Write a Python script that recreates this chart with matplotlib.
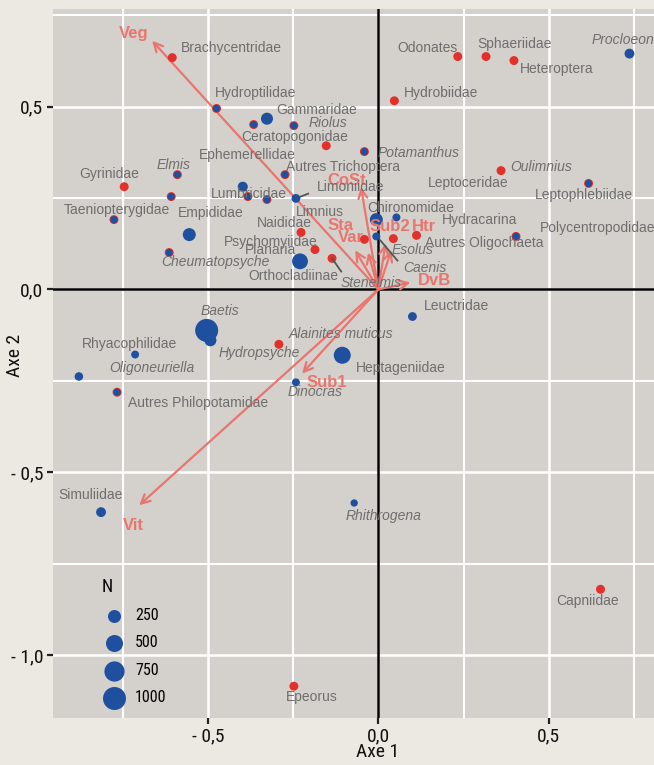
import matplotlib
matplotlib.use("Agg")
import matplotlib.pyplot as plt
from matplotlib import font_manager as fm
import numpy as np

# ---------------- data ----------------
# red layer (fixed size)
red_x = [-0.605, -0.153, -0.746, -0.227, -0.186, -0.136, -0.041, 0.044, 0.112,
         0.233, 0.316, 0.398, 0.047, 0.360, -0.292, 0.652, -0.248,
         -0.475, -0.366, -0.248, -0.041, -0.590, -0.274, -0.608, -0.383, -0.327,
         -0.776, -0.614, 0.617, 0.404, -0.767]
red_y = [0.634, 0.393, 0.281, 0.156, 0.109, 0.085, 0.137, 0.139, 0.148,
         0.637, 0.637, 0.626, 0.516, 0.325, -0.150, -0.820, -1.085,
         0.495, 0.451, 0.448, 0.377, 0.314, 0.314, 0.254, 0.254, 0.246,
         0.191, 0.101, 0.290, 0.145, -0.281]

# blue layer (size ~ N)
blue_x = [-0.475, -0.366, -0.248, -0.041, -0.590, -0.274, -0.608, -0.383, -0.327,
          -0.776, -0.614, 0.617, 0.404, -0.767,
          -0.327, -0.398, -0.242, -0.555, -0.230, -0.006, -0.006, 0.053, 0.737,
          0.100, -0.504, -0.493, -0.714, -0.879, -0.106, -0.242, -0.814, -0.071]
blue_y = [0.495, 0.451, 0.448, 0.377, 0.314, 0.314, 0.254, 0.254, 0.246,
          0.191, 0.101, 0.290, 0.145, -0.281,
          0.467, 0.281, 0.249, 0.150, 0.077, 0.191, 0.145, 0.197, 0.645,
          -0.074, -0.112, -0.139, -0.178, -0.238, -0.180, -0.254, -0.609, -0.584]
blue_n = [5, 5, 5, 5, 5, 5, 5, 5, 5,
          5, 5, 5, 5, 5,
          200, 110, 60, 250, 420, 250, 30, 30, 100,
          60, 1000, 200, 30, 50, 500, 30, 100, 10]

# taxon labels
label_text = ["Brachycentridae", "Hydroptilidae", "Gammaridae", "Riolus", "Ceratopogonidae",
              "Ephemerellidae", "Gyrinidae", "Elmis", "Autres Trichoptera", "Limoniidae",
              "Potamanthus", "Odonates", "Sphaeriidae", "Heteroptera", "Procloeon",
              "Hydrobiidae", "Oulimnius", "Leptoceridae", "Leptophlebiidae", "Polycentropodidae",
              "Hydracarina", "Chironomidae", "Autres Oligochaeta", "Esolus", "Caenis",
              "Stenelmis", "Orthocladiinae", "Planaria", "Psychomyiidae", "Naididae",
              "Limnius", "Lumbricidae", "Empididae", "Taeniopterygidae", "Cheumatopsyche",
              "Baetis", "Alainites muticus", "Hydropsyche", "Rhyacophilidae", "Oligoneuriella",
              "Heptageniidae", "Dinocras", "Autres Philopotamidae", "Leuctridae", "Simuliidae",
              "Rhithrogena", "Capniidae", "Epeorus"]
label_x = [-0.431, -0.360, -0.180, -0.147, -0.245,
           -0.386, -0.791, -0.602, -0.103, -0.080,
           0.118, 0.145, 0.401, 0.522, 0.717,
           0.183, 0.478, 0.265, 0.604, 0.643,
           0.296, 0.094, 0.310, 0.101, 0.138,
           -0.021, -0.250, -0.316, -0.316, -0.277,
           -0.171, -0.381, -0.493, -0.767, -0.478,
           -0.466, -0.109, -0.351, -0.731, -0.664,
           0.065, -0.186, -0.528, 0.230, -0.844,
           0.015, 0.614, -0.195]
label_y = [0.661, 0.536, 0.492, 0.454, 0.418,
           0.369, 0.317, 0.339, 0.336, 0.279,
           0.374, 0.661, 0.672, 0.604, 0.683,
           0.538, 0.336, 0.292, 0.257, 0.169,
           0.191, 0.224, 0.128, 0.109, 0.060,
           0.019, 0.038, 0.109, 0.131, 0.183,
           0.213, 0.262, 0.210, 0.216, 0.074,
           -0.060, -0.123, -0.175, -0.148, -0.216,
           -0.216, -0.281, -0.311, -0.046, -0.563,
           -0.620, -0.852, -1.115]
italic_labels = ["Riolus", "Elmis", "Potamanthus", "Procloeon", "Oulimnius", "Esolus", "Caenis",
                 "Stenelmis", "Cheumatopsyche", "Baetis", "Alainites muticus", "Hydropsyche",
                 "Oligoneuriella", "Dinocras", "Rhithrogena"]

# leader segments (from point to label side)
seg_x0 = [-0.242, -0.136, 0.006]
seg_y0 = [0.249, 0.085, 0.134]
seg_x1 = [-0.206, -0.109, 0.056]
seg_y1 = [0.262, 0.049, 0.079]

# environmental vectors
env_names = ["Veg", "CoSt", "Sta", "Var", "Sub2", "Htr", "DvB", "Sub1", "Vit"]
env_x = [-0.664, -0.051, -0.068, -0.030, 0.021, 0.038, 0.094, -0.224, -0.702]
env_y = [0.680, 0.280, 0.107, 0.101, 0.126, 0.107, 0.019, -0.230, -0.590]
env_lab_x = [-0.717, -0.094, -0.112, -0.080, 0.035, 0.133, 0.165, -0.150, -0.720]
env_lab_y = [0.699, 0.298, 0.175, 0.142, 0.172, 0.172, 0.025, -0.254, -0.645]

legend_n = [250, 500, 750, 1000]
xtick_vals = [-0.5, 0.0, 0.5]
xtick_labels = ["- 0,5", "0,0", "0,5"]
ytick_vals = [-1.0, -0.5, 0.0, 0.5]
ytick_labels = ["- 1,0", "- 0,5", "0,0", "0,5"]

# ---------------- style ----------------
FIG_BG = "#ECE9E3"
PANEL_BG = "#D4D1CC"
RED = "#E3302B"
BLUE = "#1F4F9F"
SALMON = "#EA746E"
LABEL_GRAY = "#6E6E6E"
SANS = ["Liberation Sans", "DejaVu Sans"]


def find_condensed():
    prefs = ["Roboto Condensed", "Liberation Sans Narrow", "Open Sans Condensed",
             "DejaVu Sans Condensed", "Noto Sans Condensed", "Arial Narrow"]
    cands = []
    for f in fm.fontManager.ttflist:
        fname = f.fname.lower()
        if f.style != "normal":
            continue
        w = f.weight if isinstance(f.weight, int) else 400
        if w not in (400,):
            continue
        tag = ("condensed" in fname or "narrow" in fname or "condensed" in f.name.lower()
               or "narrow" in f.name.lower() or str(f.stretch) in ("condensed", "semi-condensed"))
        if not tag:
            continue
        if "semicondensed" in fname.replace("-", "").replace("_", "") or "extra" in fname or "ultra" in fname:
            rank_pen = 5
        else:
            rank_pen = 0
        rank = 10
        for i, p in enumerate(prefs):
            if p.lower() in (f.name.lower() + " " + fname):
                rank = i
        if "mono" in fname or "serif" in fname.replace("sans", ""):
            rank += 20
        cands.append((rank + rank_pen, f.fname))
    if cands:
        cands.sort()
        return fm.FontProperties(fname=cands[0][1])
    return fm.FontProperties(family="DejaVu Sans")


COND_FP = find_condensed()


def cond(size):
    fp = COND_FP.copy()
    fp.set_size(size)
    return fp


def size_of(n):
    d_px = np.sqrt(49 + 0.48 * np.asarray(n, dtype=float))
    return (d_px * 0.72) ** 2


fig = plt.figure(figsize=(6.54, 7.65), dpi=100, facecolor=FIG_BG)
ax = fig.add_axes([53 / 654, 1 - 718 / 765, 601 / 654, 709 / 765])
ax.set_facecolor(PANEL_BG)
ax.set_xlim(-0.955, 0.809)
ax.set_ylim(-1.172, 0.767)

for s in ax.spines.values():
    s.set_visible(False)

# grid
ax.set_xticks(xtick_vals)
ax.set_yticks(ytick_vals)
ax.set_xticks([-0.75, -0.25, 0.25, 0.75], minor=True)
ax.set_yticks([-0.75, -0.25, 0.25, 0.75], minor=True)
ax.grid(True, which="major", color="white", lw=1.8, zorder=0)
ax.grid(True, which="minor", color="white", lw=1.5, zorder=0)
ax.set_axisbelow(True)
ax.tick_params(which="minor", length=0)
ax.tick_params(which="major", length=4, width=1.6, color="#222222", pad=3)
ax.set_xticklabels(xtick_labels, fontproperties=cond(14), color="#111111")
ax.set_yticklabels(ytick_labels, fontproperties=cond(14), color="#111111")

# axis titles
fig.text(378 / 654, 1 - 752 / 765, "Axe 1", fontproperties=cond(14), color="#111111",
         ha="center", va="center")
fig.text(15 / 654, 1 - 355 / 765, "Axe 2", fontproperties=cond(14), color="#111111",
         ha="center", va="center", rotation=90)

# origin lines
ax.axvline(0, color="black", lw=1.8, zorder=1)
ax.axhline(0, color="black", lw=1.8, zorder=1)

# environmental arrows
for name, x, y, lx, ly in zip(env_names, env_x, env_y, env_lab_x, env_lab_y):
    ax.annotate("", xy=(x, y), xytext=(0, 0),
                arrowprops=dict(arrowstyle="->", color=SALMON, lw=1.6,
                                mutation_scale=16, shrinkA=0, shrinkB=0),
                zorder=2)
    ax.text(lx, ly, name, color=SALMON, fontsize=12, fontweight="bold",
            family=SANS, ha="center", va="center", zorder=5)

# points
ax.scatter(red_x, red_y, s=size_of(np.full(len(red_x), 65)), color=RED,
           linewidths=0, zorder=3)
ax.scatter(blue_x, blue_y, s=size_of(blue_n), color=BLUE, linewidths=0, zorder=4)

# leader segments
for x0, y0, x1, y1 in zip(seg_x0, seg_y0, seg_x1, seg_y1):
    ax.plot([x0, x1], [y0, y1], color="#555555", lw=1.3, zorder=3)

# labels
for t, x, y in zip(label_text, label_x, label_y):
    ax.text(x, y, t, fontsize=10, color=LABEL_GRAY, family=SANS,
            style="italic" if t in italic_labels else "normal",
            ha="center", va="center", zorder=6, clip_on=False)

# legend
handles = [ax.scatter([], [], s=size_of(n), color=BLUE, linewidths=0) for n in legend_n]
leg = ax.legend(handles, [str(n) for n in legend_n], title="N", loc="lower left",
                bbox_to_anchor=(0.062, 0.002), frameon=False, labelspacing=0.78,
                handletextpad=0.5, borderpad=0.2, handlelength=1.6,
                prop=cond(11.5), title_fontproperties=cond(13),
                alignment="left")

fig.savefig("out.png", dpi=100, facecolor=FIG_BG)
